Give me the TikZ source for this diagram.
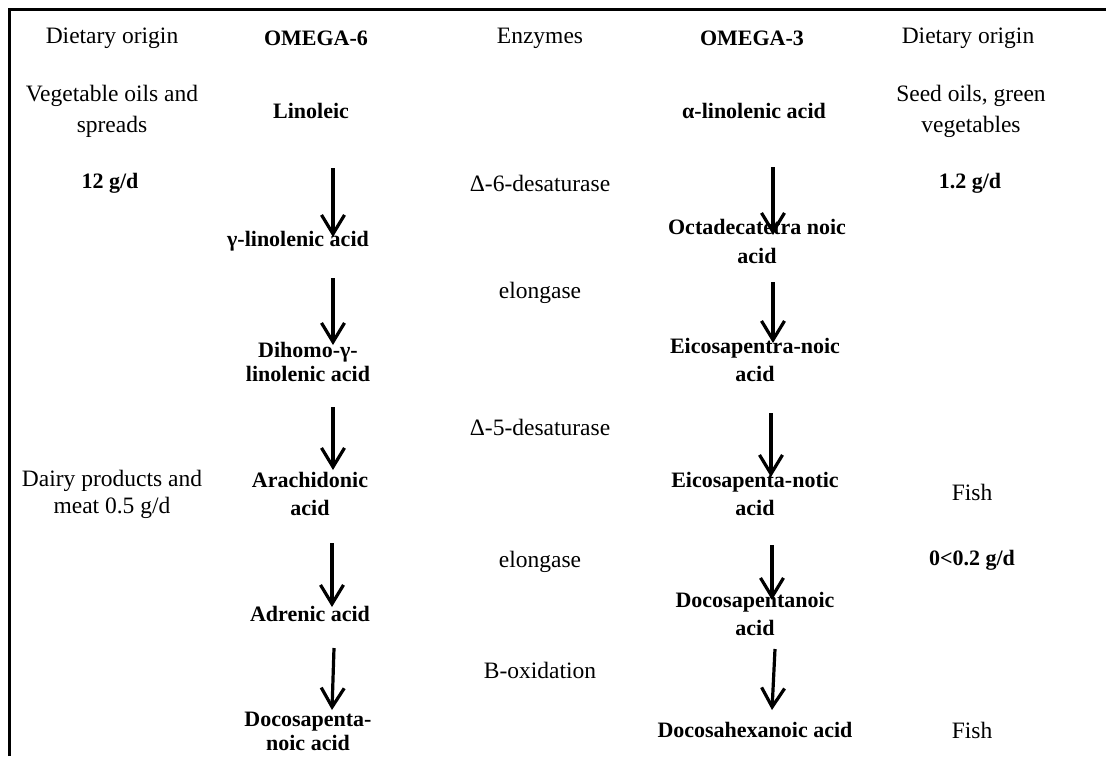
\documentclass[tikz,border=0pt]{standalone}
\usepackage{fontspec}
\setmainfont{Liberation Serif}
\usetikzlibrary{arrows.meta}
\begin{document}
\begin{tikzpicture}[x=1pt,y=-1pt,
  txt/.style={font=\fontsize{23.5}{#1}\selectfont, inner sep=0pt, align=center},
  txt/.default=30,
  bt/.style={font=\fontsize{22}{#1}\selectfont\bfseries, inner sep=0pt, align=center},
  bt/.default=28,
  arr/.style={line width=3.2pt, -{Straight Barb[length=19pt,width=23pt,line width=3.2pt]}}]
\useasboundingbox (0,0) rectangle (1106,756);
% frame
\draw[line width=2.7pt] (9.3,756) -- (9.3,9.5) -- (1106,9.5);
% header row
\node[txt] (dol) at (112,38) {Dietary origin};
\node[bt] (om6) at (316,38) {OMEGA-6};
\node[txt] (enz) at (540,38) {Enzymes};
\node[bt] (om3) at (752,38) {OMEGA-3};
\node[txt] (dor) at (968,38) {Dietary origin};
% row 2
\node[txt=31] (veg) at (112,111) {Vegetable oils and\\spreads};
\node[bt] (lin) at (311,111) {Linoleic};
\node[bt] (ala) at (754,111) {α-linolenic acid};
\node[txt=31] (seed) at (971,111) {Seed oils, green\\vegetables};
% row 3
\node[bt] (g12) at (110,183) {12 g/d};
\node[txt] (d6) at (540,183) {Δ-6-desaturase};
\node[bt] (g12r) at (970,183) {1.2 g/d};
\node[bt] (gla) at (298,241) {γ-linolenic acid};
\node[bt=29] (oda) at (757,241) {Octadecatetra noic\\acid};
% row 4
\node[txt] (el1) at (540,293) {elongase};
\node[bt=24] (dgla) at (308,362) {Dihomo-γ-\\linolenic acid};
\node[bt] (epa1) at (755,360) {Eicosapentra-noic\\acid};
% row 5
\node[txt] (d5) at (540,427) {Δ-5-desaturase};
\node[txt=27] (dairy) at (112,494) {Dairy products and\\meat 0.5 g/d};
\node[bt] (ara) at (310,494) {Arachidonic\\acid};
\node[bt] (epa2) at (755,494) {Eicosapenta-notic\\acid};
\node[txt] (fish1) at (972,492) {Fish};
% row 6
\node[txt] (el2) at (540,562) {elongase};
\node[bt] (adr) at (310,614) {Adrenic acid};
\node[bt] (g02) at (972,560) {0<0.2 g/d};
\node[bt] (dpa) at (755,614) {Docosapentanoic\\acid};
% row 7
\node[txt] (box) at (540,670) {B-oxidation};
\node[bt=24] (dpa6) at (308,731) {Docosapenta-\\noic acid};
\node[bt] (dha) at (755,730) {Docosahexanoic acid};
\node[txt] (fish2) at (972,730) {Fish};
% arrow end points
\coordinate (a1s) at (333,168); \coordinate (a1e) at (333,237);
\coordinate (a2s) at (333,278); \coordinate (a2e) at (333,345);
\coordinate (a3s) at (333,407); \coordinate (a3e) at (333,470);
\coordinate (a4s) at (332,543); \coordinate (a4e) at (332,607);
\coordinate (a5s) at (334,648); \coordinate (a5e) at (332,710);
\coordinate (b1s) at (773,167); \coordinate (b1e) at (773,235);
\coordinate (b2s) at (773,282); \coordinate (b2e) at (773,343);
\coordinate (b3s) at (771,413); \coordinate (b3e) at (771,477);
\coordinate (b4s) at (772,545); \coordinate (b4e) at (772,600);
\coordinate (b5s) at (775,649); \coordinate (b5e) at (772,710);
\foreach \a in {a1,a2,a3,a4,a5,b1,b2,b3,b4,b5}
  \draw[arr] (\a s) -- (\a e);
\end{tikzpicture}
\end{document}
